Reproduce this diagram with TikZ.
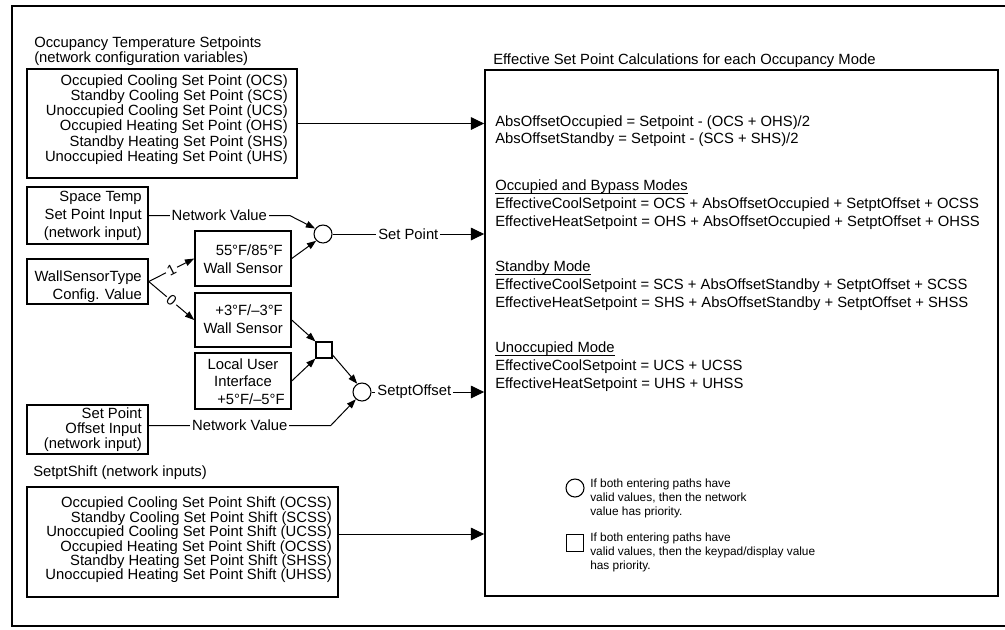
\documentclass[tikz,border=0pt]{standalone}
\usepackage{fontspec}
\setmainfont{Liberation Sans}
\usetikzlibrary{arrows.meta,fit,calc}
\newcommand\headul[1]{\underline{\smash{#1}}}
\begin{document}
\begin{tikzpicture}[x=0.75pt,y=-0.75pt,
  box/.style={draw, line width=1.1pt, inner sep=0pt},
  bigbox/.style={draw, line width=1.3pt, inner sep=0pt},
  frame/.style={draw, line width=2.2pt},
  circ/.style={draw, circle, line width=0.8pt, minimum size=13.5pt, inner sep=0pt},
  sqr/.style={draw, rectangle, line width=0.8pt, minimum size=12pt, inner sep=0pt},
  txt/.style={inner sep=0pt, font=\fontsize{11.1}{13.5}\selectfont},
  smalltxt/.style={inner sep=0pt, font=\fontsize{8.9}{10.5}\selectfont, align=left, anchor=west},
  con/.style={line width=0.75pt},
  sarr/.style={con, -{Triangle[length=7pt,width=5pt]}},
  barr/.style={con, -{Triangle[length=10pt,width=9.5pt]}},
  lbl/.style={fill=white, inner xsep=1.5pt, inner ysep=1pt, font=\fontsize{11.1}{13.5}\selectfont}
]
\useasboundingbox (0,0) rectangle (1005,629);
\draw[frame] (12,6) rectangle (1012,626);

% boxes
\node[box, fit={(27,69) (297,178)}] (occ) {};
\node[box, fit={(27,187) (148,244)}] (stsp) {};
\node[box, fit={(27,259) (148,304)}] (wst) {};
\node[box, fit={(195,231) (291,286)}] (ws1) {};
\node[box, fit={(195,293) (291,347)}] (ws0) {};
\node[box, fit={(195,353) (291,409)}] (lui) {};
\node[box, fit={(27,405) (148,454)}] (spo) {};
\node[box, fit={(27,487) (338,597)}] (shift) {};
\node[bigbox, fit={(485,70) (998,596)}] (eff) {};
\node[circ] (c1) at (323,234) {};
\node[circ] (c2) at (362,392) {};
\node[sqr] (sq) at (324,350) {};

% texts
\node[txt, anchor=west, align=left, font=\fontsize{11.1}{11.25}\selectfont] (hocc) at (34,51.5)
  {Occupancy Temperature Setpoints\\(network configuration variables)};
\node[txt, anchor=east, align=right, font=\fontsize{11.1}{10}\selectfont] (tocc) at (288,119.5)
  {Occupied Cooling Set Point (OCS)\\Standby Cooling Set Point (SCS)\\Unoccupied Cooling Set Point (UCS)\\Occupied Heating Set Point (OHS)\\Standby Heating Set Point (SHS)\\Unoccupied Heating Set Point (UHS)};
\node[txt, anchor=east, align=right] (tstsp) at (142,216)
  {Space Temp\\Set Point Input\\(network input)};
\node[txt, anchor=east, align=right] (twst) at (142,287)
  {WallSensorType\\Config. Value};
\node[txt, anchor=east, align=right] (tws1) at (283,259)
  {55°F/85°F\\Wall Sensor};
\node[txt, anchor=east, align=right] (tws0) at (283,319)
  {+3°F/–3°F\\Wall Sensor};
\node[txt, align=center, font=\fontsize{11.1}{13.2}\selectfont] (tlui) at (243,381.5)
  {Local User\\Interface\\\hspace*{12pt}+5°F/–5°F};
\node[txt, anchor=east, align=right, font=\fontsize{11.1}{11.25}\selectfont] (tspo) at (142,429.5)
  {Set Point\\Offset Input\\(network input)};
\node[txt, anchor=west] (hshift) at (33,473)
  {SetptShift (network inputs)};
\node[txt, anchor=east, align=right, font=\fontsize{11.1}{10.8}\selectfont] (tshift) at (332,540)
  {Occupied Cooling Set Point Shift (OCSS)\\Standby Cooling Set Point Shift (SCSS)\\Unoccupied Cooling Set Point Shift (UCSS)\\Occupied Heating Set Point Shift (OCSS)\\Standby Heating Set Point Shift (SHSS)\\Unoccupied Heating Set Point Shift (UHSS)};
\node[txt, anchor=west] (heff) at (493,61)
  {Effective Set Point Calculations for each Occupancy Mode};
\node[txt, anchor=west, align=left, font=\fontsize{11.1}{12.75}\selectfont] (g1) at (495,131)
  {AbsOffsetOccupied = Setpoint - (OCS + OHS)/2\\AbsOffsetStandby = Setpoint - (SCS + SHS)/2};
\node[txt, anchor=west, align=left] (g2) at (495,210.5)
  {\headul{Occupied and Bypass Modes}\\EffectiveCoolSetpoint = OCS + AbsOffsetOccupied + SetptOffset + OCSS\\EffectiveHeatSetpoint = OHS + AbsOffsetOccupied + SetptOffset + OHSS};
\node[txt, anchor=west, align=left] (g3) at (495,291.5)
  {\headul{Standby Mode}\\EffectiveCoolSetpoint = SCS + AbsOffsetStandby + SetptOffset + SCSS\\EffectiveHeatSetpoint = SHS + AbsOffsetStandby + SetptOffset + SHSS};
\node[txt, anchor=west, align=left] (g4) at (495,372.5)
  {\headul{Unoccupied Mode}\\EffectiveCoolSetpoint = UCS + UCSS\\EffectiveHeatSetpoint = UHS + UHSS};

% legend
\node[circ] (lc) at (575,488) {};
\node[smalltxt] (tlc) at (590,498)
  {If both entering paths have\\valid values, then the network\\value has priority.};
\node[sqr, minimum size=12.75pt] (lsq) at (575,543) {};
\node[smalltxt] (tlsq) at (590,552)
  {If both entering paths have\\valid values, then the keypad/display value\\has priority.};

% connectors
\draw[barr] (occ.east) -- (occ.east -| eff.west);
\coordinate (nv1) at ($(stsp.east)+(141,0)$);
\draw[sarr] (stsp.east) -- node[lbl]{Network Value} (nv1) -- (c1.145);
\draw[sarr] (ws1.east) -- (c1.225);
\draw[barr] (c1.east) -- node[lbl, pos=0.5]{Set Point} (c1.east -| eff.west);
\draw[sarr] (wst.east) -- node[lbl, sloped]{1} (ws1.west);
\draw[sarr] (wst.east) -- node[lbl, sloped]{0} (ws0.west);
\draw[sarr] (ws0.east) -- (sq.north west);
\draw[sarr] (lui.east) -- (sq.south west);
\draw[sarr] (sq.-30) -- (c2.120);
\coordinate (nv2) at ($(spo.east)+(182,-4)$);
\coordinate (spl) at ($(spo.east)+(0,-4)$);
\draw[sarr] (spl) -- node[lbl]{Network Value} (nv2) -- (c2.230);
\draw[barr] (c2.east) -- node[lbl, pos=0.38]{SetptOffset} (c2.east -| eff.west);
\coordinate (sh) at ($(shift.east)+(0,-8)$);
\draw[barr] (sh) -- (sh -| eff.west);
\end{tikzpicture}
\end{document}
